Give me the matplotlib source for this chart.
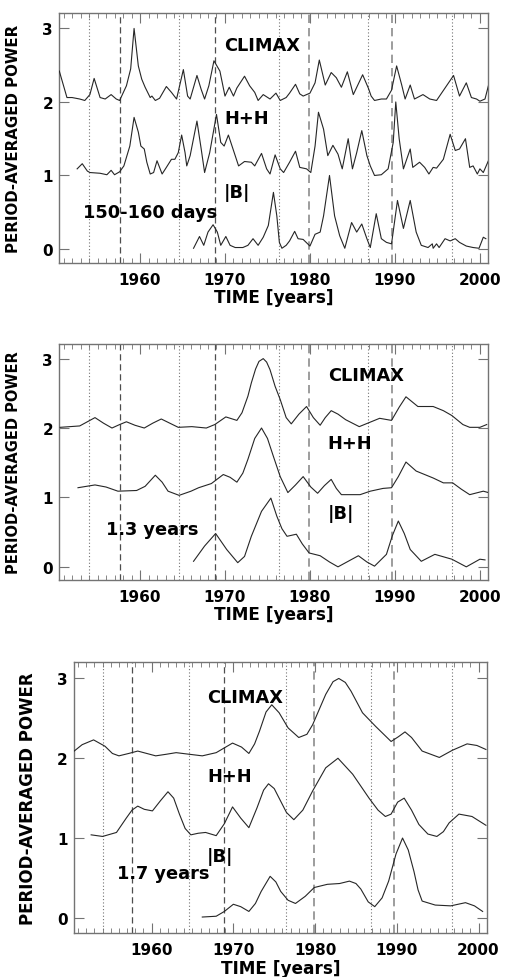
import matplotlib.pyplot as plt
from matplotlib.ticker import MultipleLocator

# ---- data: normalised period-averaged power (each curve peaks at 1) ----
# panel 1: 150-160 days
p1_climax_yr = [1950.5, 1951.4, 1952.0, 1952.9, 1953.5, 1954.1, 1954.6, 1955.3, 1955.9, 1956.6,
                1957.2, 1957.6, 1958.4, 1958.9, 1959.3, 1959.8, 1960.2, 1960.6, 1961.2, 1961.4,
                1961.8, 1962.3, 1963.1, 1963.7, 1964.3, 1965.1, 1965.6, 1965.9, 1966.7, 1967.2,
                1967.6, 1968.1, 1968.7, 1969.4, 1970.0, 1970.5, 1971.0, 1971.4, 1972.3, 1972.9,
                1973.5, 1973.9, 1974.5, 1975.3, 1976.0, 1976.5, 1977.2, 1977.6, 1978.3, 1978.8,
                1979.2, 1980.0, 1980.6, 1981.1, 1981.8, 1982.5, 1983.1, 1983.7, 1984.4, 1985.1,
                1986.2, 1986.9, 1987.2, 1987.6, 1988.4, 1989.0, 1989.6, 1990.2, 1990.8, 1991.2,
                1991.8, 1992.3, 1993.3, 1994.1, 1994.9, 1995.9, 1996.9, 1997.6, 1998.4, 1999.0,
                1999.6, 2000.0, 2000.6, 2001.0]
p1_climax = [0.42, 0.06, 0.06, 0.04, 0.02, 0.10, 0.32, 0.06, 0.04, 0.10,
             0.04, 0.02, 0.22, 0.45, 1.00, 0.49, 0.31, 0.20, 0.06, 0.08,
             0.02, 0.05, 0.21, 0.13, 0.04, 0.44, 0.08, 0.04, 0.36, 0.17,
             0.04, 0.22, 0.56, 0.42, 0.08, 0.20, 0.08, 0.19, 0.35, 0.22,
             0.13, 0.02, 0.10, 0.04, 0.12, 0.02, 0.06, 0.12, 0.24, 0.11,
             0.08, 0.12, 0.26, 0.57, 0.23, 0.40, 0.33, 0.20, 0.41, 0.10,
             0.37, 0.18, 0.08, 0.02, 0.04, 0.04, 0.16, 0.49, 0.23, 0.04,
             0.23, 0.04, 0.10, 0.04, 0.02, 0.19, 0.36, 0.08, 0.26, 0.06,
             0.04, 0.01, 0.04, 0.22]
p1_hh_yr = [1952.6, 1953.2, 1953.8, 1954.1, 1955.3, 1956.1, 1956.6, 1957.0, 1957.6, 1958.1,
            1958.8, 1959.3, 1959.8, 1960.1, 1960.5, 1960.8, 1961.2, 1961.6, 1962.0, 1962.6,
            1963.1, 1963.7, 1964.1, 1964.5, 1964.9, 1965.3, 1965.5, 1965.9, 1966.7, 1967.2,
            1967.6, 1968.2, 1969.0, 1969.5, 1969.9, 1970.4, 1971.0, 1971.6, 1972.3, 1973.1,
            1973.5, 1974.3, 1974.9, 1975.3, 1975.9, 1976.5, 1976.9, 1977.6, 1978.3, 1978.8,
            1979.6, 1980.1, 1980.6, 1981.0, 1981.6, 1982.1, 1982.7, 1983.3, 1983.8, 1984.5,
            1985.0, 1985.5, 1986.1, 1986.7, 1987.1, 1987.6, 1988.4, 1989.2, 1989.8, 1990.1,
            1990.5, 1991.0, 1991.8, 1992.1, 1992.9, 1993.5, 1994.0, 1994.5, 1994.9, 1995.7,
            1996.5, 1997.1, 1997.6, 1998.3, 1998.8, 1999.2, 1999.7, 2000.0, 2000.4, 2001.0]
p1_hh = [0.09, 0.16, 0.06, 0.04, 0.03, 0.01, 0.07, 0.01, 0.05, 0.13,
         0.40, 0.79, 0.59, 0.40, 0.36, 0.18, 0.02, 0.04, 0.20, 0.02,
         0.11, 0.22, 0.22, 0.31, 0.55, 0.31, 0.13, 0.27, 0.74, 0.36,
         0.04, 0.31, 0.83, 0.45, 0.40, 0.55, 0.34, 0.13, 0.19, 0.18,
         0.13, 0.30, 0.09, 0.02, 0.28, 0.09, 0.04, 0.18, 0.33, 0.11,
         0.09, 0.04, 0.40, 0.86, 0.63, 0.27, 0.41, 0.29, 0.09, 0.50,
         0.09, 0.31, 0.61, 0.27, 0.13, 0.00, 0.01, 0.09, 0.45, 1.00,
         0.50, 0.09, 0.36, 0.11, 0.18, 0.11, 0.02, 0.11, 0.10, 0.22,
         0.56, 0.34, 0.36, 0.50, 0.11, 0.13, 0.02, 0.09, 0.04, 0.20]
p1_b_yr = [1966.3, 1967.0, 1967.5, 1968.0, 1968.6, 1969.1, 1969.5, 1970.1, 1970.6, 1971.2,
           1972.1, 1972.7, 1973.3, 1973.9, 1974.5, 1975.1, 1975.7, 1976.1, 1976.4, 1976.7,
           1977.2, 1977.6, 1978.2, 1978.6, 1979.2, 1980.0, 1980.6, 1981.2, 1981.6, 1982.3,
           1982.9, 1983.5, 1984.1, 1984.9, 1985.5, 1986.1, 1986.7, 1987.1, 1987.8, 1988.4,
           1989.0, 1989.6, 1990.3, 1991.0, 1991.8, 1992.5, 1993.1, 1993.9, 1994.4, 1994.5,
           1994.9, 1995.2, 1995.9, 1996.5, 1997.1, 1997.6, 1998.4, 1999.2, 1999.9, 2000.4,
           2000.7]
p1_b = [0.01, 0.17, 0.05, 0.23, 0.33, 0.23, 0.05, 0.17, 0.05, 0.02,
        0.02, 0.05, 0.14, 0.05, 0.16, 0.32, 0.77, 0.45, 0.09, 0.01,
        0.05, 0.11, 0.24, 0.14, 0.13, 0.04, 0.20, 0.23, 0.45, 1.00,
        0.45, 0.18, 0.01, 0.36, 0.23, 0.34, 0.14, 0.02, 0.48, 0.14,
        0.09, 0.07, 0.66, 0.28, 0.66, 0.23, 0.05, 0.02, 0.07, 0.01,
        0.07, 0.02, 0.14, 0.11, 0.14, 0.09, 0.04, 0.02, 0.01, 0.16,
        0.14]

# panel 2: 1.3 years
p2_climax_yr = [1950.6, 1952.9, 1953.8, 1954.7, 1955.7, 1956.7, 1957.6, 1958.4, 1959.4, 1960.5,
                1961.5, 1962.5, 1963.5, 1964.5, 1966.1, 1967.8, 1968.8, 1970.1, 1971.4, 1972.0,
                1972.7, 1973.1, 1973.6, 1974.0, 1974.5, 1974.9, 1975.3, 1975.9, 1976.5, 1977.2,
                1977.8, 1978.7, 1979.6, 1980.4, 1981.2, 1981.8, 1982.5, 1983.3, 1984.2, 1985.8,
                1987.0, 1988.2, 1989.6, 1990.5, 1991.3, 1992.0, 1992.7, 1994.5, 1995.7, 1996.7,
                1998.0, 1998.8, 2000.0, 2000.8]
p2_climax = [0.01, 0.03, 0.09, 0.15, 0.07, 0.00, 0.05, 0.09, 0.04, 0.00,
             0.07, 0.13, 0.07, 0.01, 0.02, 0.00, 0.05, 0.16, 0.11, 0.22,
             0.46, 0.65, 0.85, 0.96, 1.00, 0.95, 0.84, 0.60, 0.41, 0.15,
             0.06, 0.20, 0.31, 0.15, 0.04, 0.15, 0.25, 0.20, 0.12, 0.02,
             0.08, 0.14, 0.11, 0.30, 0.45, 0.38, 0.31, 0.31, 0.25, 0.18,
             0.05, 0.01, 0.01, 0.05]
p2_hh_yr = [1952.7, 1954.7, 1956.0, 1957.4, 1959.6, 1960.6, 1961.8, 1962.6, 1963.3, 1964.6,
            1966.0, 1966.9, 1968.4, 1969.8, 1970.6, 1971.4, 1972.1, 1972.7, 1973.5, 1974.3,
            1975.0, 1975.7, 1976.5, 1977.4, 1978.3, 1979.2, 1980.1, 1980.9, 1981.7, 1982.5,
            1983.1, 1983.7, 1985.9, 1987.1, 1988.6, 1989.6, 1990.4, 1991.3, 1992.5, 1994.5,
            1995.7, 1996.8, 1997.8, 1998.8, 2000.4, 2001.0]
p2_hh = [0.14, 0.18, 0.15, 0.09, 0.10, 0.16, 0.32, 0.22, 0.09, 0.03,
         0.09, 0.14, 0.20, 0.33, 0.29, 0.22, 0.35, 0.55, 0.85, 1.00,
         0.85, 0.59, 0.30, 0.07, 0.18, 0.30, 0.15, 0.06, 0.17, 0.26,
         0.13, 0.04, 0.04, 0.09, 0.13, 0.14, 0.30, 0.51, 0.38, 0.28,
         0.21, 0.21, 0.12, 0.04, 0.09, 0.07]
p2_b_yr = [1966.3, 1967.6, 1968.9, 1970.2, 1971.5, 1972.3, 1973.1, 1974.3, 1975.4, 1976.1,
           1976.7, 1977.3, 1978.4, 1979.1, 1979.9, 1981.2, 1982.3, 1983.3, 1984.5, 1985.7,
           1986.7, 1987.6, 1989.0, 1989.7, 1990.4, 1991.1, 1991.8, 1993.1, 1994.7, 1996.7,
           1998.4, 2000.0, 2000.6]
p2_b = [0.08, 0.30, 0.48, 0.25, 0.06, 0.15, 0.44, 0.80, 0.99, 0.73,
        0.55, 0.44, 0.47, 0.33, 0.20, 0.16, 0.07, 0.00, 0.08, 0.16,
        0.07, 0.01, 0.18, 0.45, 0.66, 0.48, 0.25, 0.08, 0.18, 0.11,
        0.00, 0.11, 0.10]

# panel 3: 1.7 years
p3_climax_yr = [1950.4, 1951.5, 1952.9, 1954.3, 1955.2, 1956.0, 1957.2, 1958.3, 1959.4, 1960.5,
                1961.8, 1963.0, 1964.6, 1966.2, 1967.9, 1969.9, 1971.0, 1971.9, 1972.6, 1973.2,
                1974.0, 1974.7, 1975.6, 1976.7, 1978.0, 1979.0, 1979.7, 1981.3, 1982.2, 1982.9,
                1983.7, 1984.4, 1985.8, 1987.4, 1988.4, 1989.3, 1990.2, 1991.0, 1991.8, 1993.1,
                1995.2, 1996.8, 1998.6, 1999.8, 2000.9]
p3_climax = [0.08, 0.17, 0.23, 0.15, 0.06, 0.03, 0.06, 0.09, 0.06, 0.03,
             0.05, 0.07, 0.05, 0.03, 0.07, 0.19, 0.14, 0.06, 0.18, 0.34,
             0.58, 0.67, 0.57, 0.38, 0.26, 0.30, 0.42, 0.80, 0.96, 1.00,
             0.95, 0.84, 0.57, 0.40, 0.30, 0.21, 0.27, 0.33, 0.26, 0.09,
             0.01, 0.10, 0.18, 0.16, 0.11]
p3_hh_yr = [1952.6, 1954.0, 1955.7, 1956.9, 1957.6, 1958.3, 1959.1, 1960.1, 1961.1, 1962.0,
            1962.7, 1963.4, 1964.1, 1964.8, 1965.7, 1966.6, 1967.9, 1968.9, 1969.9, 1970.9,
            1971.9, 1972.9, 1973.7, 1974.3, 1975.0, 1975.6, 1976.5, 1977.4, 1978.5, 1979.7,
            1981.3, 1982.8, 1984.6, 1986.6, 1987.7, 1988.6, 1989.3, 1990.1, 1990.9, 1991.8,
            1992.7, 1993.8, 1994.9, 1995.7, 1996.4, 1997.6, 1999.2, 2000.9]
p3_hh = [0.04, 0.02, 0.07, 0.25, 0.35, 0.40, 0.36, 0.34, 0.47, 0.58,
         0.50, 0.30, 0.12, 0.04, 0.06, 0.07, 0.03, 0.18, 0.39, 0.25,
         0.13, 0.38, 0.60, 0.68, 0.62, 0.50, 0.32, 0.23, 0.35, 0.59,
         0.88, 1.00, 0.80, 0.50, 0.35, 0.27, 0.30, 0.45, 0.50, 0.35,
         0.17, 0.05, 0.02, 0.08, 0.19, 0.30, 0.27, 0.16]
p3_b_yr = [1966.2, 1967.9, 1968.9, 1970.0, 1970.9, 1971.9, 1972.7, 1973.4, 1974.5, 1975.2,
           1975.8, 1976.7, 1977.6, 1978.8, 1979.9, 1981.5, 1983.0, 1984.2, 1985.0, 1985.6,
           1986.5, 1987.3, 1988.2, 1989.0, 1989.9, 1990.7, 1991.4, 1992.1, 1992.6, 1993.1,
           1994.7, 1996.6, 1998.4, 1999.5, 2000.5]
p3_b = [0.01, 0.02, 0.08, 0.17, 0.14, 0.08, 0.18, 0.33, 0.52, 0.45,
        0.33, 0.22, 0.18, 0.27, 0.38, 0.42, 0.43, 0.46, 0.43, 0.36,
        0.20, 0.14, 0.25, 0.46, 0.80, 1.00, 0.85, 0.58, 0.35, 0.21,
        0.16, 0.15, 0.19, 0.15, 0.08]

series_names = ["CLIMAX", "H+H", "|B|"]
series_offsets = [2, 1, 0]
period_labels = ["150-160 days", "1.3 years", "1.7 years"]

# solar cycle maxima (dashed) and minima (dotted)
solar_max = [1957.6, 1968.8, 1979.9, 1989.6]
solar_min = [1954.0, 1964.6, 1976.4, 1986.8, 1996.7]

panels = [
    [(p1_climax_yr, p1_climax), (p1_hh_yr, p1_hh), (p1_b_yr, p1_b)],
    [(p2_climax_yr, p2_climax), (p2_hh_yr, p2_hh), (p2_b_yr, p2_b)],
    [(p3_climax_yr, p3_climax), (p3_hh_yr, p3_hh), (p3_b_yr, p3_b)],
]

# layout per panel: axes rect, name x, period label position, ylabel size, xlabel pad
rects = [[0.1172, 0.7301, 0.848, 0.2556],
         [0.1172, 0.4059, 0.848, 0.2413],
         [0.1462, 0.0450, 0.8157, 0.2774]]
name_x = [1969.9, 1982.1, 1966.8]
name_y = [2.77, 1.78, 0.77]
period_xy = [(1953.3, 0.50), (1956.0, 0.55), (1955.8, 0.56)]
ylab_size = [10.8, 10.5, 12]
xlab_pad = [1.0, 1.0, 1.5]

fig = plt.figure(figsize=(5.06, 9.78), dpi=100)
edge = "0.45"

for i, curves in enumerate(panels):
    ax = fig.add_axes(rects[i])
    for x in solar_max:
        ax.axvline(x, color="0.3" if x < 1975 else "0.55", lw=0.9 if x < 1975 else 1.2,
                   ls=(0, (5, 3)), zorder=1)
    for x in solar_min:
        ax.axvline(x, color="0.45", lw=0.8, ls=(0, (1, 2)), zorder=1)
    for (yr, pw), off in zip(curves, series_offsets):
        ax.plot(yr, [v + off for v in pw], color="0.15", lw=0.8, zorder=3)
    for name, ny in zip(series_names, name_y):
        ax.text(name_x[i], ny, name, fontsize=12.8, fontweight="bold", va="center", ha="left")
    ax.text(period_xy[i][0], period_xy[i][1], period_labels[i], fontsize=12.8,
            fontweight="bold", va="center", ha="left")

    ax.set_xlim(1950.5, 2001)
    ax.set_ylim(-0.19, 3.21)
    ax.xaxis.set_major_locator(MultipleLocator(10))
    ax.xaxis.set_minor_locator(MultipleLocator(1))
    ax.yaxis.set_major_locator(MultipleLocator(1))
    ax.tick_params(axis="both", which="both", direction="in", top=True, right=True,
                   color=edge, labelsize=11)
    ax.tick_params(axis="x", which="major", length=7, pad=6.5)
    ax.tick_params(axis="x", which="minor", length=3.5)
    ax.tick_params(axis="y", which="major", length=7, pad=4.5)
    for lab in ax.get_xticklabels() + ax.get_yticklabels():
        lab.set_fontweight("bold")
    for sp in ax.spines.values():
        sp.set_color(edge)
        sp.set_linewidth(1.0)
    ax.set_xlabel("TIME [years]", fontsize=12.2, fontweight="bold", labelpad=xlab_pad[i])
    ax.set_ylabel("PERIOD-AVERAGED POWER", fontsize=ylab_size[i], fontweight="bold")
    ax.yaxis.set_label_coords(-0.09, 0.5)

fig.savefig("out.png", dpi=100)
